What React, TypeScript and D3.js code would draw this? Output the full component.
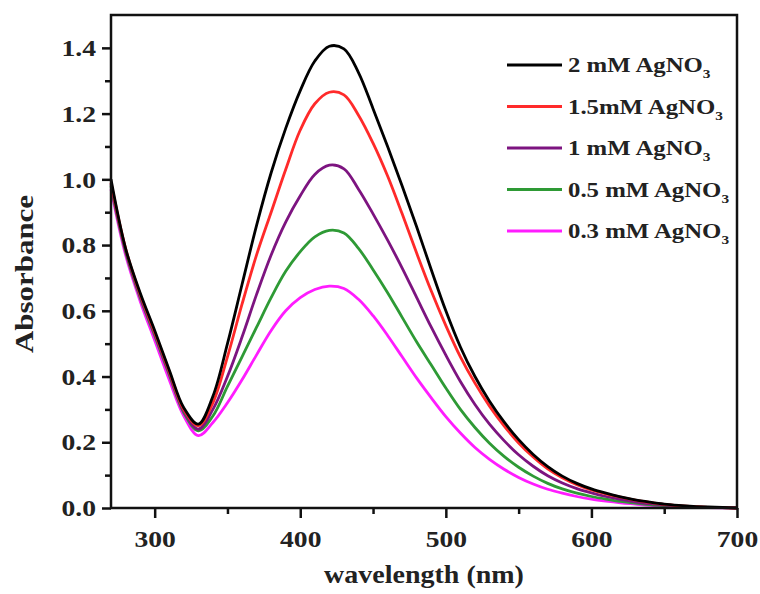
import React, { useEffect, useRef } from "react";
import * as d3 from "d3";

const wavelengths = [
  270, 280, 290, 300, 310, 320, 330, 340, 350, 360, 370, 380, 390, 400, 410,
  420, 430, 440, 450, 460, 470, 480, 490, 500, 510, 520, 530, 540, 550, 560,
  570, 580, 590, 600, 610, 620, 630, 640, 650, 660, 670, 680, 690, 700,
];

const abs2mM = [
  1.0, 0.79, 0.655, 0.54, 0.42, 0.305, 0.255, 0.34, 0.5, 0.68, 0.86, 1.02, 1.155,
  1.27, 1.36, 1.405, 1.397, 1.325, 1.215, 1.1, 0.98, 0.855, 0.725, 0.6, 0.49,
  0.4, 0.325, 0.262, 0.208, 0.163, 0.126, 0.097, 0.075, 0.058, 0.045, 0.034,
  0.025, 0.018, 0.012, 0.008, 0.005, 0.003, 0.0015, 0.0,
];
const abs15mM = [
  0.99, 0.79, 0.65, 0.535, 0.415, 0.3, 0.25, 0.32, 0.46, 0.62, 0.77, 0.9,
  1.03, 1.15, 1.23, 1.265, 1.257, 1.195, 1.11, 1.01, 0.895, 0.775, 0.66, 0.555,
  0.46, 0.38, 0.31, 0.25, 0.198, 0.155, 0.119, 0.092, 0.071, 0.055, 0.043,
  0.033, 0.024, 0.017, 0.011, 0.007, 0.004, 0.002, 0.001, 0.0,
];
const abs1mM = [
  0.985, 0.785, 0.645, 0.53, 0.41, 0.295, 0.24, 0.3, 0.4, 0.52, 0.65, 0.77, 0.87,
  0.95, 1.015, 1.043, 1.032, 0.97, 0.895, 0.815, 0.73, 0.64, 0.55, 0.465, 0.385,
  0.315, 0.255, 0.205, 0.162, 0.127, 0.098, 0.076, 0.059, 0.046, 0.035, 0.026,
  0.019, 0.013, 0.009, 0.006, 0.003, 0.002, 0.001, 0.0,
];
const abs05mM = [
  0.98, 0.78, 0.64, 0.525, 0.405, 0.29, 0.235, 0.28, 0.37, 0.46, 0.55, 0.64,
  0.72, 0.78, 0.825, 0.845, 0.837, 0.79, 0.725, 0.655, 0.58, 0.505, 0.435,
  0.365, 0.3, 0.245, 0.197, 0.157, 0.124, 0.097, 0.075, 0.058, 0.045, 0.035,
  0.027, 0.02, 0.015, 0.01, 0.007, 0.005, 0.003, 0.002, 0.001, 0.0,
];
const abs03mM = [
  0.97, 0.77, 0.63, 0.51, 0.39, 0.28, 0.22, 0.26, 0.32, 0.39, 0.466, 0.54,
  0.6, 0.64, 0.665, 0.675, 0.668, 0.635, 0.585, 0.525, 0.46, 0.395, 0.335,
  0.278, 0.228, 0.184, 0.148, 0.118, 0.093, 0.073, 0.057, 0.045, 0.035, 0.027,
  0.021, 0.016, 0.012, 0.008, 0.006, 0.004, 0.002, 0.001, 0.0005, 0.0,
];

const seriesLabels = ["2 mM AgNO", "1.5mM AgNO", "1 mM AgNO", "0.5 mM AgNO", "0.3 mM AgNO"];
const seriesColors = ["#000000", "#ff2a2a", "#7d1480", "#2e9a35", "#ff1cff"];
const seriesValues = [abs2mM, abs15mM, abs1mM, abs05mM, abs03mM];

const xMajorTicks = [300, 400, 500, 600, 700];
const xMinorTicks = [350, 450, 550, 650];
const yMajorTicks = [0, 0.2, 0.4, 0.6, 0.8, 1.0, 1.2, 1.4];
const yMinorTicks = [0.1, 0.3, 0.5, 0.7, 0.9, 1.1, 1.3];

const W = 760;
const H = 594;
const margin = { left: 111, right: 23, top: 15, bottom: 86 };
const FONT = "'Liberation Serif', 'Times New Roman', serif";

export default function App() {
  const ref = useRef<SVGSVGElement>(null);

  useEffect(() => {
    const svg = d3.select(ref.current);
    svg.selectAll("*").remove();

    const x = d3.scaleLinear().domain([270, 700]).range([margin.left, W - margin.right]);
    const y = d3.scaleLinear().domain([0, 1.5]).range([H - margin.bottom, margin.top]);

    const g = svg.append("g");

    // curves, lowest drawn first
    const line = d3
      .line<number>()
      .x((d, i) => x(wavelengths[i]))
      .y((d) => y(d))
      .curve(d3.curveCatmullRom.alpha(0.5));

    for (let k = seriesValues.length - 1; k >= 0; k--) {
      g.append("path")
        .attr("d", line(seriesValues[k]))
        .attr("fill", "none")
        .attr("stroke", seriesColors[k])
        .attr("stroke-width", 2.8)
        .attr("stroke-linejoin", "round");
    }

    // frame
    g.append("rect")
      .attr("x", x(270))
      .attr("y", y(1.5))
      .attr("width", x(700) - x(270))
      .attr("height", y(0) - y(1.5))
      .attr("fill", "none")
      .attr("stroke", "#111")
      .attr("stroke-width", 2.5);

    // x axis
    const xAxis = g.append("g").attr("transform", `translate(0,${y(0)})`);
    xAxis
      .call(
        d3.axisBottom(x).tickValues(xMajorTicks).tickSize(10).tickSizeOuter(0).tickPadding(12)
      )
      .call((s) => s.select(".domain").remove());
    xAxis
      .append("g")
      .call(d3.axisBottom(x).tickValues(xMinorTicks).tickSize(6).tickFormat(() => ""))
      .call((s) => s.select(".domain").remove());

    // y axis
    const yAxis = g.append("g").attr("transform", `translate(${x(270)},0)`);
    yAxis
      .call(
        d3
          .axisLeft(y)
          .tickValues(yMajorTicks)
          .tickSize(9)
          .tickSizeOuter(0)
          .tickPadding(4)
          .tickFormat(d3.format(".1f"))
      )
      .call((s) => s.select(".domain").remove());
    yAxis
      .append("g")
      .call(d3.axisLeft(y).tickValues(yMinorTicks).tickSize(6).tickFormat(() => ""))
      .call((s) => s.select(".domain").remove());

    svg
      .selectAll(".tick line")
      .attr("stroke", "#111")
      .attr("stroke-width", 2.5);
    svg
      .selectAll(".tick text")
      .attr("fill", "#222")
      .attr("transform", "scale(1.15,1)")
      .style("font-family", FONT)
      .style("font-weight", "bold")
      .style("font-size", "24px");

    // axis titles
    g.append("text")
      .attr("transform", `translate(${(x(270) + x(700)) / 2},583) scale(1.12,1)`)
      .attr("text-anchor", "middle")
      .style("font-family", FONT)
      .style("font-weight", "bold")
      .style("font-size", "25px")
      .attr("fill", "#222")
      .text("wavelength (nm)");

    g.append("text")
      .attr("transform", `translate(33,274) rotate(-90) scale(1.19,1)`)
      .attr("text-anchor", "middle")
      .style("font-family", FONT)
      .style("font-weight", "bold")
      .style("font-size", "26px")
      .attr("fill", "#222")
      .text("Absorbance");

    // legend
    const legend = g.append("g");
    seriesLabels.forEach((label, i) => {
      const ly = 65 + i * 41.5;
      legend
        .append("line")
        .attr("x1", 507)
        .attr("x2", 562)
        .attr("y1", ly)
        .attr("y2", ly)
        .attr("stroke", seriesColors[i])
        .attr("stroke-width", 2.8);
      const t = legend
        .append("text")
        .attr("transform", `translate(568,${ly + 7}) scale(1.18,1)`)
        .style("font-family", FONT)
        .style("font-weight", "bold")
        .style("font-size", "21px")
        .attr("fill", "#222");
      t.append("tspan").text(label);
      t.append("tspan").attr("dy", 6).style("font-size", "13px").text("3");
    });
  }, []);

  return (
    <svg
      ref={ref}
      width={W}
      height={H}
      style={{ position: "absolute", left: 0, top: 0, background: "#fff" }}
    />
  );
}
